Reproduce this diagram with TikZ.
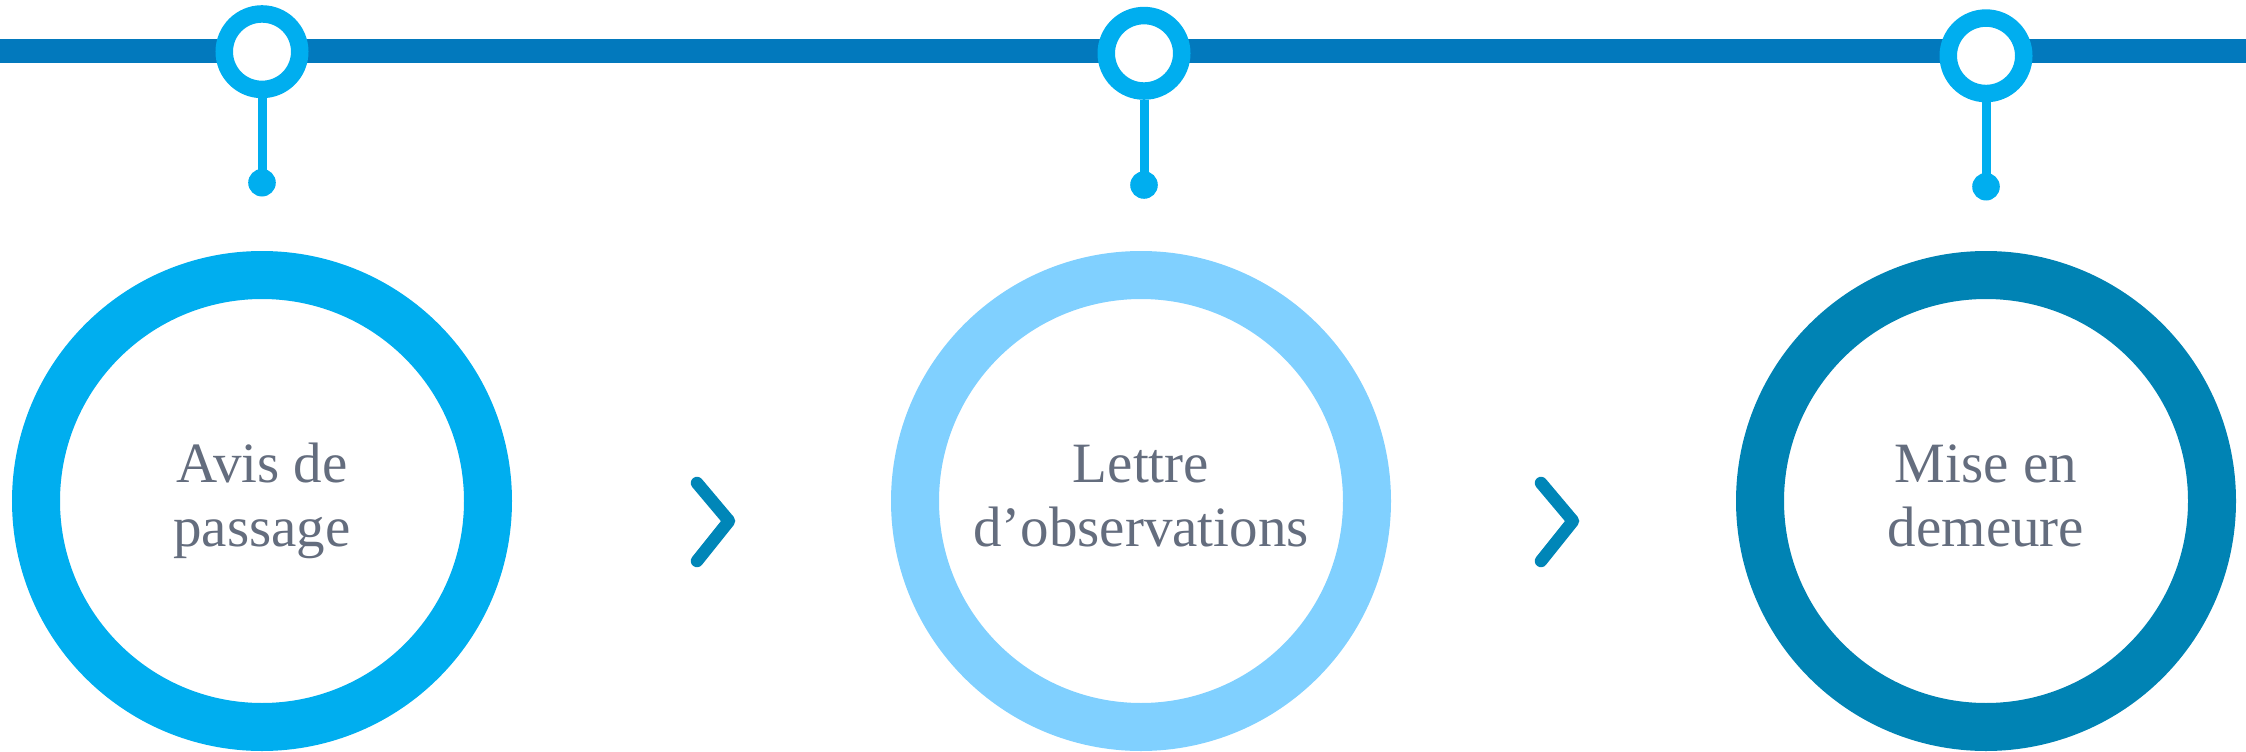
\documentclass[tikz,border=0pt]{standalone}
\usepackage{fontspec}
\setmainfont{Liberation Serif}
\definecolor{barblue}{RGB}{2,121,189}
\definecolor{cyanblue}{RGB}{0,174,239}
\definecolor{paleblue}{RGB}{128,208,255}
\definecolor{deepblue}{RGB}{0,131,180}
\definecolor{chevblue}{RGB}{0,134,184}
\definecolor{labelgrey}{RGB}{100,109,126}
\begin{document}
\begin{tikzpicture}[x=1pt,y=-1pt,
  timeline/.style={line width=24.5pt,barblue},
  pinring/.style={circle,draw=cyanblue,fill=white,line width=17.5pt,minimum size=75.5pt,inner sep=0pt},
  pindot/.style={circle,fill=cyanblue,minimum size=27.6pt,inner sep=0pt},
  pinstem/.style={line width=9pt,cyanblue},
  stagering/.style={circle,fill=white,line width=48pt,minimum size=452pt,inner sep=0pt},
  chevron/.style={line width=12.5pt,chevblue,line cap=round,line join=round},
  stagelabel/.style={text=labelgrey,font=\fontsize{57}{64}\selectfont,anchor=base,inner sep=0pt}
]
\useasboundingbox (0,0) rectangle (2246,752);

% timeline bar across the top
\coordinate (barL) at (0,51);
\coordinate (barR) at (2246,51);
\draw[timeline] (barL) -- (barR);

% pins hanging from the timeline
\node[pinring] (pin1) at (262,51.7) {};
\node[pinring] (pin2) at (1144,53.3) {};
\node[pinring] (pin3) at (1986,55.8) {};
\node[pindot] (dot1) at (262,182.7) {};
\node[pindot] (dot2) at (1144,185) {};
\node[pindot] (dot3) at (1986,186.7) {};
\draw[pinstem] (pin1.south) -- (dot1.center);
\draw[pinstem] (pin2.south) -- (dot2.center);
\draw[pinstem] (pin3.south) -- (dot3.center);

% the three stages
\node[stagering,draw=cyanblue] (stage1) at (262,501) {};
\node[stagering,draw=paleblue] (stage2) at (1141,501) {};
\node[stagering,draw=deepblue] (stage3) at (1986,501) {};

\node[stagelabel] (lab1a) at (262,482) {Avis de};
\node[stagelabel] (lab1b) at (262,546) {passage};
\node[stagelabel] (lab2a) at (1141,482) {Lettre};
\node[stagelabel] (lab2b) at (1141,546) {d’observations};
\node[stagelabel] (lab3a) at (1986,482) {Mise en};
\node[stagelabel] (lab3b) at (1986,546) {demeure};

% chevrons between the stages
\coordinate (chA1) at (697,483);
\coordinate (chA2) at (729,521);
\coordinate (chA3) at (697,561);
\draw[chevron] (chA1) -- (chA2) -- (chA3);
\coordinate (chB1) at (1541,483);
\coordinate (chB2) at (1573,521);
\coordinate (chB3) at (1541,561);
\draw[chevron] (chB1) -- (chB2) -- (chB3);
\end{tikzpicture}
\end{document}
